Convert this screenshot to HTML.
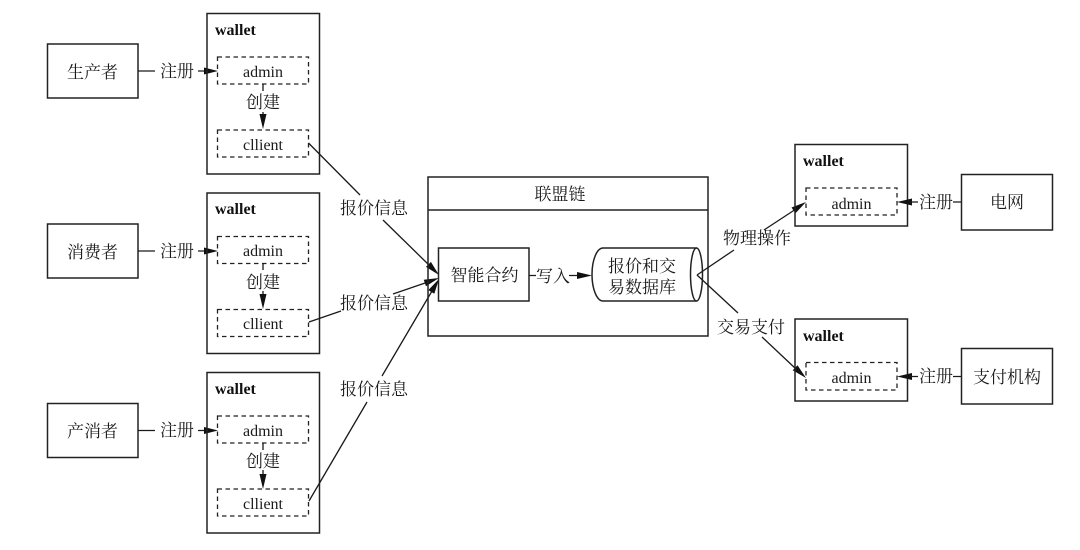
<!DOCTYPE html>
<html><head><meta charset="utf-8"><style>
html,body{margin:0;padding:0;background:#fff}
svg{display:block}
text{font-family:"Liberation Serif","Noto Serif CJK SC",serif;fill:#1a1a1a;text-anchor:middle}
.z{font-size:17px}
.e{font-size:16px}
.w{font-size:16px;font-weight:bold;text-anchor:start;fill:#111}
.b{fill:none;stroke:#222;stroke-width:1.5}
.d{fill:none;stroke:#222;stroke-width:1.3;stroke-dasharray:4.5 3.5}
.l{fill:none;stroke:#1a1a1a;stroke-width:1.3}
.a{fill:#111;stroke:none}
</style></head><body>
<svg width="1080" height="550" viewBox="0 0 1080 550" xmlns="http://www.w3.org/2000/svg">
<rect width="1080" height="550" fill="#fff"/>

<!-- left column 1 -->
<rect class="b" x="47.5" y="44" width="90.5" height="54"/>
<text class="z" x="92.5" y="78">生产者</text>
<path class="l" d="M138 71H155M198 71H208"/>
<polygon class="a" points="218,71 204,67.500 204,74.500"/>
<text class="z" x="177" y="77">注册</text>
<rect class="b" x="207" y="13.5" width="112.5" height="160.5"/>
<text class="w" x="215" y="35">wallet</text>
<rect class="d" x="217.5" y="57" width="91" height="27"/>
<text class="e" x="263" y="77">admin</text>
<rect class="d" x="217.5" y="130" width="91" height="27"/>
<text class="e" x="263" y="150">cllient</text>
<text class="z" x="263" y="108">创建</text>
<path class="l" d="M263 84V91M263 112V118"/>
<polygon class="a" points="263,129 259.500,114 266.500,114"/>

<!-- left column 2 -->
<rect class="b" x="47.5" y="224" width="90.5" height="54"/>
<text class="z" x="92.5" y="258">消费者</text>
<path class="l" d="M138 251H155M198 251H208"/>
<polygon class="a" points="218,251 204,247.500 204,254.500"/>
<text class="z" x="177" y="257">注册</text>
<rect class="b" x="207" y="193" width="112.5" height="160.500"/>
<text class="w" x="215" y="214">wallet</text>
<rect class="d" x="217.500" y="236.500" width="91" height="27"/>
<text class="e" x="263" y="256">admin</text>
<rect class="d" x="217.500" y="309.500" width="91" height="27"/>
<text class="e" x="263" y="329">cllient</text>
<text class="z" x="263" y="288">创建</text>
<path class="l" d="M263 263V270M263 291V297"/>
<polygon class="a" points="263,309 259.500,294 266.500,294"/>

<!-- left column 3 -->
<rect class="b" x="47.500" y="403.500" width="90.500" height="54"/>
<text class="z" x="92.500" y="437">产消者</text>
<path class="l" d="M138 430.500H155M198 430.500H208"/>
<polygon class="a" points="218,430.500 204,427 204,434"/>
<text class="z" x="177" y="436">注册</text>
<rect class="b" x="207" y="372.500" width="112.500" height="160.500"/>
<text class="w" x="215" y="394">wallet</text>
<rect class="d" x="217.500" y="416" width="91" height="27"/>
<text class="e" x="263" y="436">admin</text>
<rect class="d" x="217.500" y="489" width="91" height="27"/>
<text class="e" x="263" y="509">cllient</text>
<text class="z" x="263" y="467">创建</text>
<path class="l" d="M263 443V450M263 470V477"/>
<polygon class="a" points="263,489 259.500,474 266.500,474"/>

<!-- to contract -->
<path class="l" d="M308.500 143L360 195M383 220L430 266"/>
<polygon class="a" points="439,275 430.900,261.900 425.900,266.900"/>
<path class="l" d="M309 322L341 311M393 294L428 282"/>
<polygon class="a" points="439,278 426,286.300 423.700,279.700"/>
<path class="l" d="M309 501L367 402M382 376L432 291"/>
<polygon class="a" points="439,279 434.300,293.700 428.300,290.100"/>
<text class="z" x="374" y="214">报价信息</text>
<text class="z" x="374" y="309">报价信息</text>
<text class="z" x="374" y="395">报价信息</text>

<!-- chain -->
<rect class="b" x="428" y="177" width="280" height="159"/>
<path class="b" d="M428 210H708"/>
<text class="z" x="560" y="200">联盟链</text>
<rect class="b" x="438.500" y="248" width="90.500" height="53"/>
<text class="z" x="484.500" y="281">智能合约</text>
<text class="z" x="553" y="282">写入</text>
<path class="l" d="M529 275.500H536M569 275.500H582"/>
<polygon class="a" points="592,275.500 577,272 577,279"/>
<path class="b" d="M696.500 248H603A11 26.500 0 0 0 603 301H696.500"/>
<ellipse class="b" cx="696.500" cy="274.500" rx="6" ry="26.500"/>
<text class="z" x="642" y="272">报价和交</text>
<text class="z" x="642" y="293">易数据库</text>

<!-- right connectors -->
<path class="l" d="M697 275L734 250M764 230L796 209"/>
<polygon class="a" points="806,202 795.500,213.300 791.500,207.500"/>
<path class="l" d="M697 275L738 313M762 337L796 369"/>
<polygon class="a" points="806,378 797.500,365.200 792.700,370.200"/>
<text class="z" x="757" y="244">物理操作</text>
<text class="z" x="751" y="333">交易支付</text>

<!-- right upper -->
<rect class="b" x="795" y="144.500" width="112.500" height="81.500"/>
<text class="w" x="803" y="166">wallet</text>
<rect class="d" x="806" y="188" width="91" height="27"/>
<text class="e" x="851.500" y="209">admin</text>
<polygon class="a" points="897,202 912,198.500 912,205.500"/>
<path class="l" d="M910 202H918M953 202H961"/>
<text class="z" x="936" y="208">注册</text>
<rect class="b" x="961.500" y="174.500" width="91" height="55.500"/>
<text class="z" x="1007" y="208">电网</text>

<!-- right lower -->
<rect class="b" x="795" y="319" width="112.500" height="82"/>
<text class="w" x="803" y="341">wallet</text>
<rect class="d" x="806" y="362.500" width="91" height="27.500"/>
<text class="e" x="851.500" y="383">admin</text>
<polygon class="a" points="897,376.500 912,373 912,380"/>
<path class="l" d="M910 376.500H918M953 376.500H961"/>
<text class="z" x="936" y="382">注册</text>
<rect class="b" x="961.500" y="348.500" width="91" height="55.500"/>
<text class="z" x="1007" y="383">支付机构</text>
</svg>
</body></html>
